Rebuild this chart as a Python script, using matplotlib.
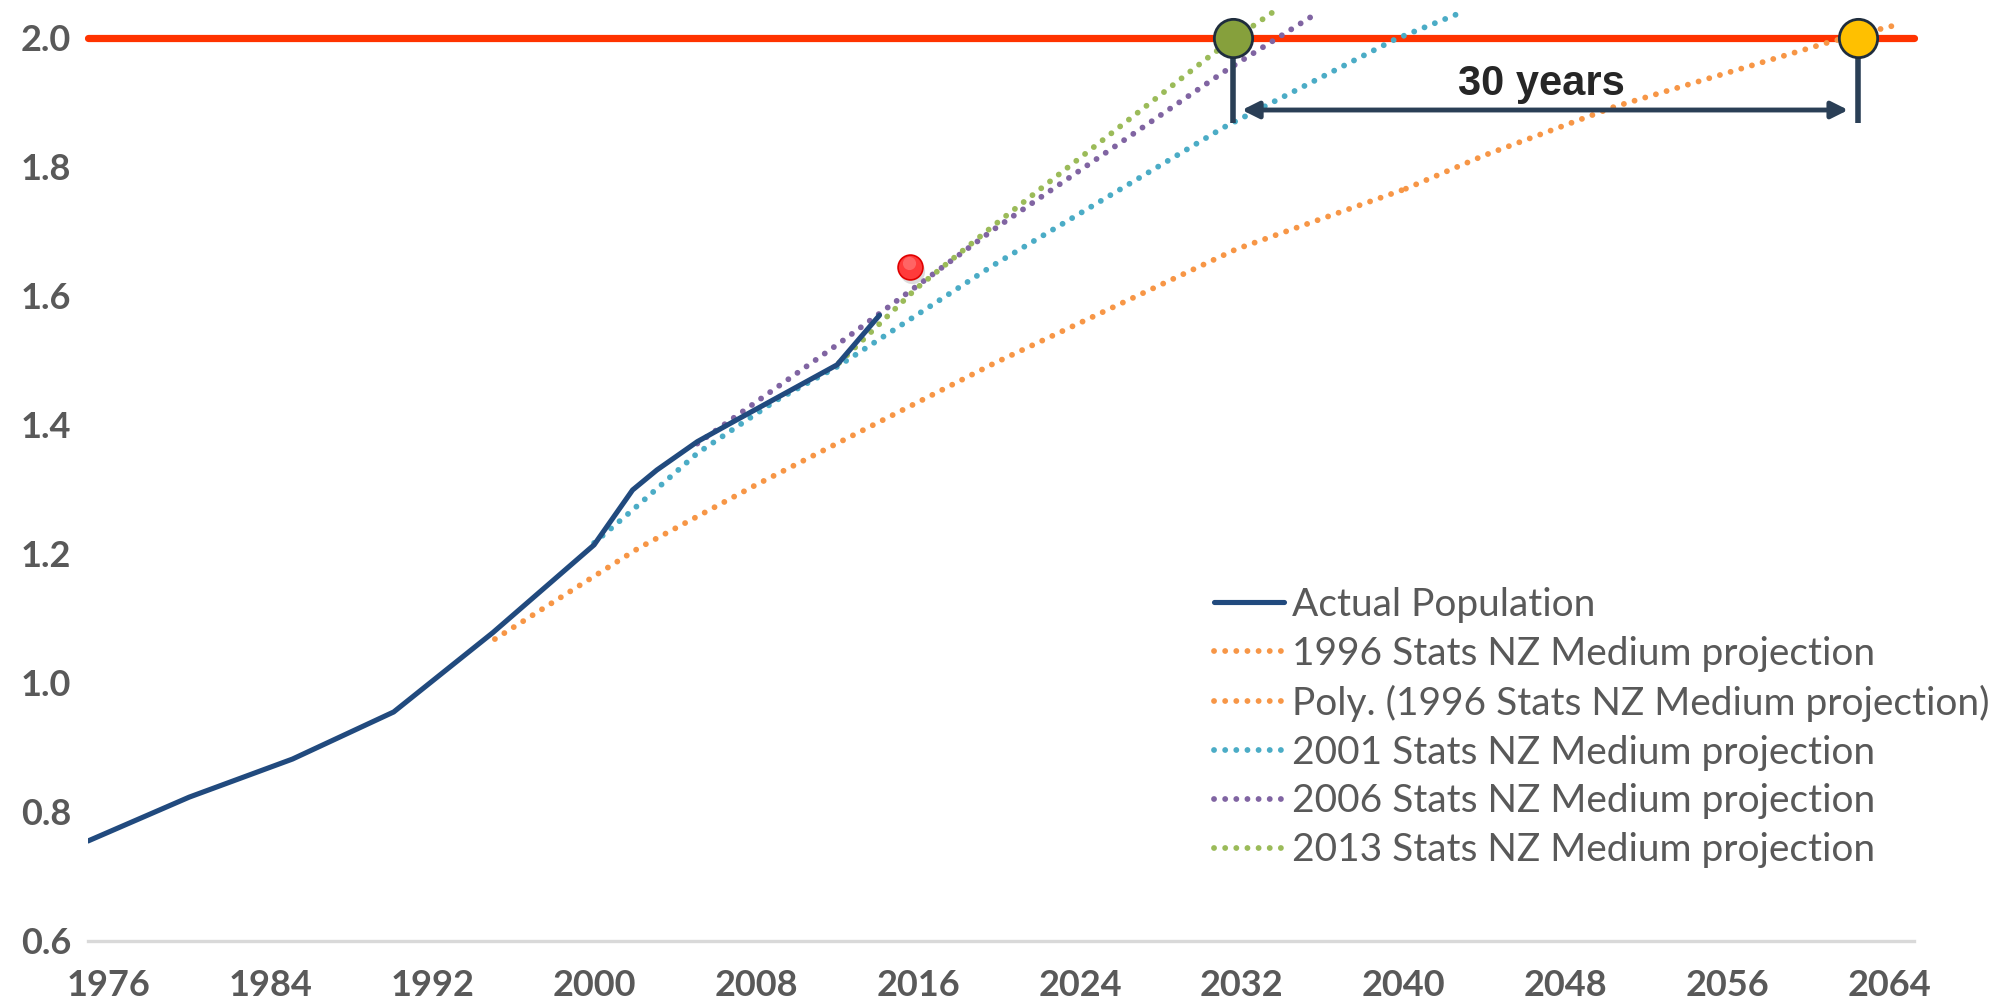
import matplotlib
matplotlib.use('Agg')
import matplotlib.pyplot as plt

# ---------------- data ----------------
actual_years = [1975.0, 1980.0, 1985.1, 1990.1, 1995.0, 2000.0, 2001.9, 2003.1, 2005.1, 2007.0, 2012.0, 2014.1]
actual_pop = [0.755, 0.823, 0.882, 0.955, 1.078, 1.214, 1.299, 1.330, 1.374, 1.407, 1.493, 1.570]

proj1996_years = [1995.1, 2002.2, 2008.0, 2012.3, 2019.8, 2031.7, 2040.1]
proj1996_pop = [1.068, 1.209, 1.307, 1.376, 1.496, 1.672, 1.766]

poly1996_years = [2040.1, 2044.0, 2050.4, 2061.1, 2064.6]
poly1996_pop = [1.766, 1.818, 1.893, 1.994, 2.022]

proj2001_years = [2000.0, 2001.9, 2005.1, 2009.0, 2012.0, 2019.7, 2031.1, 2039.6, 2042.9]
proj2001_pop = [1.217, 1.268, 1.356, 1.438, 1.490, 1.647, 1.861, 1.998, 2.040]

proj2006_years = [2005.1, 2012.0, 2019.7, 2031.1, 2035.7]
proj2006_pop = [1.371, 1.524, 1.702, 1.947, 2.038]

proj2013_years = [2012.1, 2015.9, 2019.7, 2030.6, 2033.5]
proj2013_pop = [1.496, 1.611, 1.708, 1.976, 2.039]

target_level = 2.0
target_years = [1975.0, 2065.2]
point_2016 = (2015.6, 1.645)
cross_years = [2031.55, 2062.45]
gap_label = "30 years"

x_ticks = [1976, 1984, 1992, 2000, 2008, 2016, 2024, 2032, 2040, 2048, 2056, 2064]
y_ticks = [0.6, 0.8, 1.0, 1.2, 1.4, 1.6, 1.8, 2.0]

labels = ["Actual Population",
          "1996 Stats NZ Medium projection",
          "Poly. (1996 Stats NZ Medium projection)",
          "2001 Stats NZ Medium projection",
          "2006 Stats NZ Medium projection",
          "2013 Stats NZ Medium projection"]

# ---------------- styling ----------------
NAVY = '#214A7E'
ORANGE = '#F79646'
BLUE = '#4BACC6'
PURPLE = '#8064A2'
GREEN = '#9BBB59'
RED = '#FF3300'
DARK = '#2A3F56'
GRAY = '#595959'

plt.rcParams['font.family'] = ['Lato', 'DejaVu Sans']

W, H = 1996, 1006
fig = plt.figure(figsize=(W / 100, H / 100), dpi=100)
ax = fig.add_axes([88 / W, 65 / H, 1826 / W, 941 / H])
ax.set_xlim(1975.0, 2065.2)
ax.set_ylim(0.6, 2.0585)

dot = dict(linestyle=(0, (0.01, 1.9)), dash_capstyle='round', lw=4.2)

ax.plot(target_years, [target_level, target_level], color=RED, lw=5.2,
        solid_capstyle='round', zorder=2, clip_on=False)

h_actual, = ax.plot(actual_years, actual_pop, color=NAVY, lw=3.7,
                    solid_capstyle='round', solid_joinstyle='round', zorder=5)
h96, = ax.plot(proj1996_years, proj1996_pop, color=ORANGE, zorder=3, **dot)
hpoly, = ax.plot(poly1996_years, poly1996_pop, color=ORANGE, zorder=3, **dot)
h01, = ax.plot(proj2001_years, proj2001_pop, color=BLUE, zorder=3, **dot)
h06, = ax.plot(proj2006_years, proj2006_pop, color=PURPLE, zorder=3, **dot)
h13, = ax.plot(proj2013_years, proj2013_pop, color=GREEN, zorder=3, **dot)

# red point
ax.scatter([point_2016[0] + 0.12], [point_2016[1] - 0.006], s=330, color='#BBBBBB',
           alpha=0.5, zorder=6, linewidths=0)
ax.scatter([point_2016[0]], [point_2016[1]], s=320, color='#FF3B3B',
           edgecolors='#E00000', linewidths=1.2, zorder=7)
ax.scatter([point_2016[0] - 0.05], [point_2016[1] + 0.006], s=90, color='#FF8080',
           alpha=0.6, zorder=7, linewidths=0)

# markers for the 30 years span
bar_top, bar_bot = 1.969, 1.868
arrow_y = 1.888
for xv in cross_years:
    ax.plot([xv, xv], [bar_top, bar_bot], color=DARK, lw=4, solid_capstyle='butt',
            zorder=8, clip_on=False)
ax.scatter([cross_years[0]], [target_level], s=760, color='#86A03C',
           edgecolors='#1F2D3D', linewidths=2, zorder=9, clip_on=False)
ax.scatter([cross_years[1]], [target_level], s=760, color='#FFC000',
           edgecolors='#1F2D3D', linewidths=2, zorder=9, clip_on=False)
ax.annotate('', xy=(cross_years[0] + 0.45, arrow_y), xytext=(cross_years[1] - 0.5, arrow_y),
            arrowprops=dict(arrowstyle='<|-|>,head_length=1.0,head_width=0.5',
                            color=DARK, lw=3.5, shrinkA=0, shrinkB=0), zorder=8)
ax.text((cross_years[0] + cross_years[1]) / 2 - 0.2, 1.911, gap_label,
        family=['Liberation Sans', 'DejaVu Sans'], fontweight='bold',
        fontsize=30, color='#262626', ha='center', va='baseline', zorder=10)

# axes styling
for s in ['left', 'right', 'top']:
    ax.spines[s].set_visible(False)
ax.spines['bottom'].set_color('#D9D9D9')
ax.spines['bottom'].set_linewidth(2.4)
ax.set_xticks(x_ticks)
ax.set_xticklabels([str(v) for v in x_ticks])
ax.set_yticks(y_ticks)
ax.set_yticklabels([f'{v:.1f}' for v in y_ticks])
ax.tick_params(axis='x', length=0, pad=20, labelsize=26, labelcolor=GRAY)
ax.tick_params(axis='y', length=0, pad=12, labelsize=26, labelcolor=GRAY)
for t in ax.get_xticklabels() + ax.get_yticklabels():
    t.set_fontweight('bold')

# legend
handles = [h_actual, h96, hpoly, h01, h06, h13]
leg = ax.legend(handles, labels, loc='upper left',
                bbox_to_anchor=(1214 / W, 1 - 587 / H), bbox_transform=fig.transFigure,
                frameon=False, fontsize=28, handlelength=1.8, handletextpad=0.2,
                labelspacing=0.33, borderpad=0, borderaxespad=0)
for t in leg.get_texts():
    t.set_color(GRAY)

fig.savefig('out.png', dpi=100)
